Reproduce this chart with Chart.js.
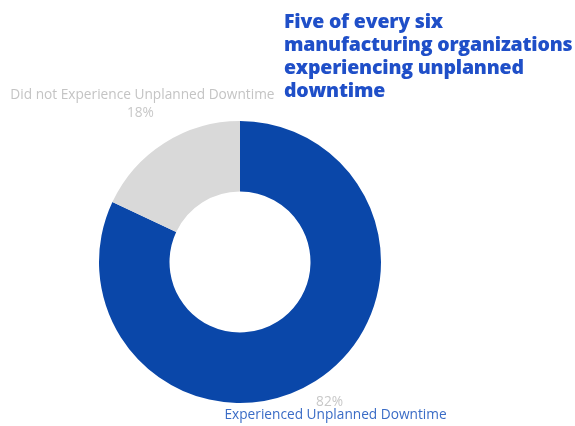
<!DOCTYPE html>
<html>
<head>
<meta charset="utf-8">
<script src="https://cdn.jsdelivr.net/npm/chart.js@4"></script>
<style>
  html, body { margin: 0; padding: 0; background: #ffffff; }
  #wrap { position: relative; width: 575px; height: 426px; overflow: hidden; }
  #c { position: absolute; left: 0; top: 0; }
  #title {
    position: absolute; left: 284px; top: 9px;
    font-family: "Open Sans", sans-serif; font-weight: 800; font-size: 19.5px;
    line-height: 23px; color: #1f4fc8; letter-spacing: -0.2px;
  }
</style>
</head>
<body>
<div id="wrap">
  <canvas id="c" width="575" height="426"></canvas>
  <div id="title">Five of every six<br>manufacturing organizations<br>experiencing unplanned<br>downtime</div>
</div>
<script>
const categories = ["Experienced Unplanned Downtime", "Did not Experience Unplanned Downtime"];
const values = [82, 18];
const valueLabels = ["82%", "18%"];
const colors = ["#0a47a9", "#d9d9d9"];
const nameColors = ["#3a6cc6", "#c4c4c4"];

const outsideLabels = {
  id: 'outsideLabels',
  afterDatasetsDraw(chart) {
    const ctx = chart.ctx;
    const meta = chart.getDatasetMeta(0);
    ctx.save();
    ctx.textAlign = 'center';
    ctx.textBaseline = 'middle';
    meta.data.forEach((arc, i) => {
      const mid = (arc.startAngle + arc.endAngle) / 2;
      const r = arc.outerRadius + 28;
      const x = arc.x + Math.cos(mid) * r;
      const y = arc.y + Math.sin(mid) * r;
      const top = Math.sin(mid) < 0;
      ctx.font = '13.7px "Open Sans", sans-serif';
      if (top) {
        ctx.fillStyle = nameColors[i];
        ctx.fillText(categories[i], x - 7, y - 24);
        ctx.fillStyle = '#c8c8c8';
        ctx.fillText(valueLabels[i], x - 9, y - 6);
      } else {
        ctx.fillStyle = '#c8c8c8';
        ctx.fillText(valueLabels[i], x - 1, y - 3);
        ctx.fillStyle = nameColors[i];
        ctx.fillText(categories[i], x + 5, y + 10);
      }
    });
    ctx.restore();
  }
};

new Chart(document.getElementById('c'), {
  type: 'doughnut',
  data: {
    labels: categories,
    datasets: [{
      data: values,
      backgroundColor: colors,
      borderWidth: 0,
      hoverOffset: 0
    }]
  },
  options: {
    responsive: false,
    animation: false,
    cutout: '50%',
    layout: { padding: { left: 99, right: 194, top: 121, bottom: 23 } },
    plugins: {
      legend: { display: false },
      tooltip: { enabled: false },
      title: { display: false }
    }
  },
  plugins: [outsideLabels]
});
</script>
</body>
</html>
